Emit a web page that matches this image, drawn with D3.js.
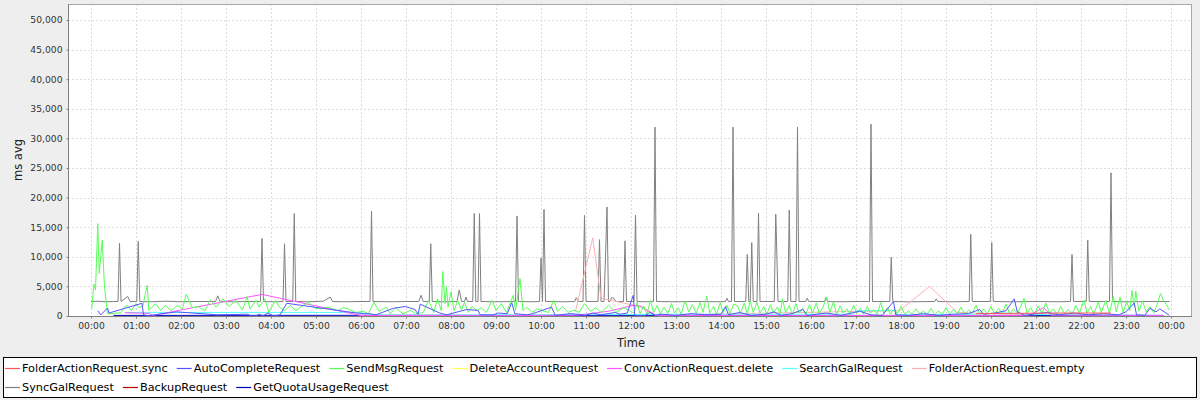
<!DOCTYPE html>
<html><head><meta charset="utf-8">
<script src="https://cdn.jsdelivr.net/npm/d3@7"></script>
<style>
body{margin:0;background:#eeeeee;}
svg{display:block;font-family:"DejaVu Sans",sans-serif;}
</style>
</head><body>
<svg id="c" width="1200" height="400"></svg>
<script>
// ---------------- DATA ----------------
const seriesNames = ["FolderActionRequest.sync","AutoCompleteRequest","SendMsgRequest","DeleteAccountRequest","ConvActionRequest.delete","SearchGalRequest","FolderActionRequest.empty","SyncGalRequest","BackupRequest","GetQuotaUsageRequest"];

const folderActionSync = [["19:40",400],["20:30",450],["21:30",500],["22:40",500]];

const autoComplete = [["00:09",900],["00:13",170],["00:22",1350],["00:24",500],["01:08",2150],["01:10",200],["01:16",50],["01:54",700],["02:48",200],["03:29",300],["03:33",20],["03:39",20],["03:45",300],["03:49",0],["03:56",500],["04:03",0],["04:12",200],["04:21",2150],["05:54",500],["06:00",450],["06:05",350],["06:10",400],["06:20",200],["06:43",1300],["06:59",1600],["07:12",1100],["07:16",300],["07:19",2000],["07:45",500],["07:54",200],["08:21",1100],["08:36",950],["08:39",200],["08:56",200],["09:03",500],["09:15",400],["09:21",2250],["09:25",400],["09:41",200],["09:49",400],["10:14",1500],["10:19",100],["10:39",400],["10:48",300],["10:59",100],["11:09",500],["11:20",200],["11:39",600],["11:45",300],["11:55",500],["12:03",3500],["12:05",100],["12:19",100],["12:25",600],["12:33",100],["12:40",300],["13:00",100],["13:20",400],["13:40",200],["14:00",300],["14:06",1600],["14:10",200],["14:25",600],["14:40",100],["15:00",300],["15:11",700],["15:20",100],["15:35",400],["15:49",1100],["15:55",100],["16:20",500],["16:40",100],["17:05",800],["17:20",200],["17:35",100],["17:50",2450],["17:53",200],["18:10",100],["18:30",400],["18:50",100],["19:10",300],["19:30",400],["19:45",1100],["19:50",300],["20:05",500],["20:20",900],["20:31",2900],["20:35",700],["20:45",100],["21:00",400],["21:15",600],["21:30",200],["21:50",500],["22:10",200],["22:30",400],["22:50",200],["23:00",700],["23:11",2200],["23:14",200],["23:25",100],["23:32",1300],["23:40",700],["23:45",1200],["23:58",100]];

const sendMsg = [["00:01",1200],["00:04",5400],["00:06",4400],["00:09",15600],["00:11",7200],["00:15",12800],["00:18",4900],["00:22",350],["00:31",450],["00:40",550],["00:44",1400],["00:48",1800],["00:54",900],["01:00",2100],["01:04",1400],["01:09",1650],["01:15",5200],["01:17",1000],["01:21",1400],["01:26",2100],["01:33",900],["01:39",1800],["01:47",900],["01:55",1800],["02:02",1200],["02:07",3700],["02:15",1400],["02:23",1600],["02:32",900],["02:39",2750],["02:47",1500],["02:56",2900],["03:04",1600],["03:13",2650],["03:22",1000],["03:28",3300],["03:32",1200],["03:40",2650],["03:44",1500],["03:52",2900],["03:57",600],["04:06",2650],["04:11",1500],["04:18",900],["04:26",1800],["04:33",900],["04:43",1800],["04:50",2350],["04:57",1400],["05:07",1200],["05:16",1500],["05:29",900],["05:36",1400],["05:43",1200],["05:53",600],["06:03",800],["06:10",350],["06:17",2350],["06:24",800],["06:34",1500],["06:39",350],["06:46",1400],["06:56",350],["07:06",1000],["07:13",350],["07:23",600],["07:30",2650],["07:37",600],["07:42",2900],["07:47",900],["07:49",7500],["07:52",2100],["07:54",4950],["07:56",1500],["08:00",4100],["08:04",900],["08:09",2650],["08:14",1000],["08:18",2350],["08:23",600],["08:28",1600],["08:35",900],["08:40",1400],["08:47",600],["08:55",2650],["09:00",900],["09:07",2100],["09:14",600],["09:23",3500],["09:26",900],["09:32",6300],["09:36",900],["09:41",1500],["09:48",600],["09:55",1200],["10:02",900],["10:10",600],["10:17",2650],["10:22",800],["10:29",1600],["10:36",600],["10:44",1000],["10:51",600],["10:58",2100],["11:06",800],["11:13",1400],["11:20",600],["11:30",1800],["11:40",600],["11:50",1400],["11:58",900],["12:04",500],["12:08",2300],["12:12",400],["12:17",1700],["12:21",300],["12:26",2600],["12:30",600],["12:35",1800],["12:39",300],["12:44",1500],["12:49",400],["12:54",2100],["12:58",500],["13:03",1400],["13:07",300],["13:12",2500],["13:17",700],["13:22",1900],["13:27",400],["13:32",2300],["13:36",600],["13:41",3400],["13:45",500],["13:50",1600],["13:54",300],["13:59",2200],["14:03",600],["14:08",1800],["14:12",400],["14:17",2000],["14:22",1700],["14:26",500],["14:31",2200],["14:35",400],["14:39",2500],["14:43",600],["14:48",2300],["14:52",500],["14:57",1600],["15:01",300],["15:06",1900],["15:10",500],["15:15",1500],["15:19",400],["15:22",2900],["15:26",600],["15:31",1800],["15:35",300],["15:40",2100],["15:44",500],["15:49",1300],["15:53",300],["15:58",1900],["16:02",500],["16:07",2200],["16:11",400],["16:16",1500],["16:21",3200],["16:25",600],["16:30",2400],["16:34",300],["16:39",1700],["16:43",500],["16:48",1200],["16:52",300],["16:57",1800],["17:01",400],["17:06",1300],["17:10",300],["17:15",1600],["17:19",500],["17:24",1100],["17:28",300],["17:33",2300],["17:37",400],["17:42",1400],["17:46",300],["17:51",1200],["17:55",400],["18:00",1600],["18:05",300],["18:10",900],["18:15",300],["18:20",1200],["18:25",400],["18:30",800],["18:35",300],["18:40",1300],["18:45",200],["18:50",900],["18:55",300],["19:00",1400],["19:05",300],["19:10",1100],["19:15",400],["19:20",1500],["19:25",300],["19:30",1000],["19:35",500],["19:40",1800],["19:45",300],["19:50",1200],["19:55",400],["20:00",1600],["20:05",300],["20:10",1300],["20:15",500],["20:20",2000],["20:25",300],["20:30",1200],["20:35",500],["20:40",1700],["20:44",3000],["20:48",500],["20:53",1400],["20:58",300],["21:03",1700],["21:08",400],["21:13",2200],["21:18",500],["21:23",1200],["21:28",300],["21:33",1600],["21:38",400],["21:43",1100],["21:48",300],["21:53",1800],["21:58",500],["22:04",2700],["22:08",500],["22:13",1600],["22:17",300],["22:23",2400],["22:27",600],["22:33",2600],["22:38",500],["22:43",3300],["22:47",700],["22:52",3200],["22:56",600],["23:01",2400],["23:05",900],["23:08",4300],["23:11",1500],["23:13",4200],["23:17",800],["23:22",2500],["23:27",700],["23:32",1600],["23:37",500],["23:41",1800],["23:46",3800],["23:50",2600],["23:54",1900],["23:58",1000]];

const deleteAccount = [["14:30",200]];

const convActionDelete = [["00:45",550],["01:18",450],["01:22",80],["03:48",3650],["06:00",80],["07:00",100],["09:00",50],["10:50",150],["11:30",800],["12:03",1800],["12:12",1700],["12:33",100],["14:00",100],["17:00",80],["20:50",100],["21:10",1400],["21:20",150],["23:50",100]];

const searchGal = [["00:45",600],["05:55",600],["06:05",450],["06:20",200],["07:00",150],["10:00",200],["11:00",300],["12:00",250],["13:00",300],["16:55",300],["17:00",900],["17:52",900],["17:55",200],["19:30",300],["20:20",500],["21:00",250],["23:00",150],["23:50",100]];

const folderActionEmpty = [["10:46",800],["11:09",13200],["11:20",3000],["12:12",1600],["12:34",150],["17:58",900],["18:38",5000],["19:15",600],["20:00",400],["21:00",200]];

const syncGal = [["00:00",2450],["00:10",2500],["00:20",2400],["00:30",2450],["00:36",2450],["00:38",12300],["00:40",2450],["00:49",3300],["00:52",2450],["01:01",2450],["01:03",12600],["01:05",2450],["01:20",2400],["01:40",2500],["02:00",2400],["02:20",2450],["02:46",2450],["02:49",3400],["02:52",2450],["03:10",2400],["03:30",2450],["03:46",2450],["03:48",13100],["03:50",2450],["04:05",2400],["04:16",2450],["04:18",12200],["04:20",2450],["04:29",2450],["04:31",17300],["04:33",2450],["04:50",2400],["05:10",2500],["05:19",3200],["05:22",2450],["05:40",2400],["06:00",2450],["06:12",2450],["06:14",17700],["06:16",2450],["06:40",2400],["07:00",2450],["07:17",2450],["07:20",3500],["07:23",2450],["07:31",2450],["07:33",12200],["07:35",2450],["07:55",2400],["08:08",2450],["08:11",4400],["08:14",2450],["08:18",2450],["08:20",3200],["08:22",2450],["08:29",2450],["08:31",17300],["08:33",2450],["08:36",2450],["08:38",17300],["08:40",2450],["09:00",2400],["09:26",2450],["09:28",16900],["09:30",2450],["09:50",2400],["09:58",2450],["10:00",9800],["10:02",2450],["10:04",18000],["10:06",2450],["10:30",2400],["10:45",2450],["10:47",3100],["10:50",2450],["10:56",2450],["10:58",17000],["11:00",2450],["11:16",2450],["11:18",12900],["11:20",2450],["11:24",2450],["11:26",9900],["11:28",18400],["11:30",2450],["11:32",2450],["11:34",3100],["11:37",3000],["11:40",2450],["11:50",2450],["11:52",12700],["11:54",2450],["12:04",2450],["12:06",17000],["12:08",2450],["12:20",2400],["12:30",2450],["12:32",31900],["12:34",2450],["13:00",2400],["13:30",2450],["14:00",2400],["14:06",2450],["14:08",3000],["14:10",2450],["14:14",2450],["14:16",31900],["14:18",2450],["14:33",2450],["14:35",10400],["14:37",2450],["14:39",2450],["14:41",12400],["14:43",2450],["14:48",2450],["14:50",17400],["14:52",2450],["15:11",2450],["15:13",17200],["15:14",12700],["15:16",2450],["15:29",2450],["15:31",17900],["15:33",2450],["15:40",2450],["15:42",31900],["15:44",2450],["15:53",2450],["15:55",3000],["15:57",2450],["16:18",2450],["16:20",3100],["16:22",2450],["16:40",2400],["17:00",2450],["17:18",2450],["17:20",32400],["17:22",2450],["17:45",2450],["17:47",9900],["17:49",2450],["18:10",2400],["18:45",2450],["18:47",2900],["18:49",2450],["19:10",2400],["19:31",2450],["19:33",13800],["19:35",2450],["19:59",2450],["20:01",12400],["20:03",2450],["20:30",2400],["21:00",2450],["21:30",2400],["21:46",2450],["21:48",10400],["21:50",2450],["22:07",2450],["22:09",12800],["22:11",2450],["22:38",2450],["22:40",24200],["22:42",2450],["23:00",2400],["23:30",2450],["23:58",2450]];

const backup = [["03:00",150]];

const getQuotaUsage = [["00:30",100],["08:00",120],["16:00",100],["23:50",100]];

const yTickValues = [0,5000,10000,15000,20000,25000,30000,35000,40000,45000,50000];
const xTickLabels = ["00:00","01:00","02:00","03:00","04:00","05:00","06:00","07:00","08:00","09:00","10:00","11:00","12:00","13:00","14:00","15:00","16:00","17:00","18:00","19:00","20:00","21:00","22:00","23:00","00:00"];
const yAxisTitle = "ms avg";
const xAxisTitle = "Time";

// ---------------- STYLE / LAYOUT ----------------
const seriesData = [folderActionSync, autoComplete, sendMsg, deleteAccount, convActionDelete, searchGal, folderActionEmpty, syncGal, backup, getQuotaUsage];
const colors = ["#FF5555","#5555FF","#55FF55","#FFFF55","#FF55FF","#55FFFF","#FFAFAF","#808080","#C00000","#0000C0"];

const plot = {left:68, top:4, right:1192, bottom:316};
const svg = d3.select("#c");
svg.append("rect").attr("width",1200).attr("height",400).attr("fill","#eeeeee");

const parse = d3.timeParse("%H:%M");
const t0 = parse("00:00");
const t24 = d3.timeHour.offset(t0, 24);
const x = d3.scaleTime().domain([t0, t24]).range([91, 1171]);
const y = d3.scaleLinear().domain([0, 50000]).range([316, 20]);

svg.append("rect").attr("x",plot.left).attr("y",plot.top)
  .attr("width",plot.right-plot.left).attr("height",plot.bottom-plot.top).attr("fill","#ffffff");

const hourTicks = d3.timeHour.range(t0, d3.timeMinute.offset(t24,1));

const grid = svg.append("g").attr("stroke","#dcdcdc").attr("stroke-width",1).attr("stroke-dasharray","2,2")
  .attr("shape-rendering","crispEdges");
grid.selectAll("line.v").data(hourTicks).join("line")
  .attr("x1",d=>Math.round(x(d))+0.5).attr("x2",d=>Math.round(x(d))+0.5)
  .attr("y1",plot.top).attr("y2",plot.bottom);
grid.selectAll("line.h").data(yTickValues).join("line")
  .attr("x1",plot.left).attr("x2",plot.right)
  .attr("y1",d=>Math.round(y(d))+0.5).attr("y2",d=>Math.round(y(d))+0.5);

svg.append("clipPath").attr("id","clip").append("rect")
  .attr("x",plot.left).attr("y",plot.top).attr("width",plot.right-plot.left).attr("height",plot.bottom-plot.top);

const line = d3.line().x(d=>x(parse(d[0]))).y(d=>y(d[1]));
const lines = svg.append("g").attr("clip-path","url(#clip)");
for (let i = seriesData.length-1; i >= 0; i--) {
  if (seriesData[i].length < 2) continue;
  lines.append("path").datum(seriesData[i]).attr("d",line)
    .attr("fill","none").attr("stroke",colors[i]).attr("stroke-width",1)
    .attr("stroke-linejoin","round");
}

svg.append("rect").attr("x",plot.left+0.5).attr("y",plot.top+0.5)
  .attr("width",plot.right-plot.left-1).attr("height",plot.bottom-plot.top)
  .attr("fill","none").attr("stroke","#a8a8a8").attr("stroke-width",1);

const xAxis = d3.axisBottom(x).tickValues(hourTicks).tickSize(2).tickPadding(4)
  .tickFormat((d,i)=>xTickLabels[i]);
const gx = svg.append("g").attr("transform",`translate(0,${plot.bottom+0.5})`).call(xAxis);
gx.select(".domain").attr("d",`M${plot.left},0H${plot.right}`).attr("stroke","#808080");
gx.selectAll(".tick line").attr("stroke","#808080");
gx.selectAll("text").attr("font-size","9.2px").attr("fill","#333").attr("font-family","DejaVu Sans");

const yAxis = d3.axisLeft(y).tickValues(yTickValues).tickSize(2).tickPadding(4).tickFormat(d3.format(","));
const gy = svg.append("g").attr("transform",`translate(${plot.left+0.5},0)`).call(yAxis);
gy.select(".domain").attr("d",`M0,${plot.top}V${plot.bottom}`).attr("stroke","#808080");
gy.selectAll(".tick line").attr("stroke","#808080");
gy.selectAll("text").attr("font-size","9.2px").attr("fill","#333").attr("font-family","DejaVu Sans");

svg.append("text").attr("x",x(d3.timeHour.offset(t0,12))).attr("y",347)
  .attr("text-anchor","middle").attr("font-size","11.5px").attr("fill","#222").text(xAxisTitle);
svg.append("text").attr("transform","translate(22,160) rotate(-90)")
  .attr("text-anchor","middle").attr("font-size","11.5px").attr("fill","#222").text(yAxisTitle);

svg.append("rect").attr("x",3.5).attr("y",357.5).attr("width",1193).attr("height",40)
  .attr("fill","#ffffff").attr("stroke","#000").attr("stroke-width",1);
const lg = svg.append("g").attr("font-size","11.3px").attr("fill","#000");
let lx = 5, row = 0;
const rowY = [368, 387];
seriesNames.forEach((name,i)=>{
  const t = lg.append("text").attr("y",rowY[row]).attr("dy","0.35em").text(name);
  const w = t.node().getComputedTextLength();
  if (lx + 17 + w > 1194) { row++; lx = 5; t.attr("y",rowY[row]); }
  lg.append("line").attr("x1",lx).attr("x2",lx+15).attr("y1",rowY[row]+0.5).attr("y2",rowY[row]+0.5)
    .attr("stroke",colors[i]).attr("stroke-width",1.2);
  t.attr("x",lx+17);
  lx += 17 + w + 9;
});
</script>
</body></html>
